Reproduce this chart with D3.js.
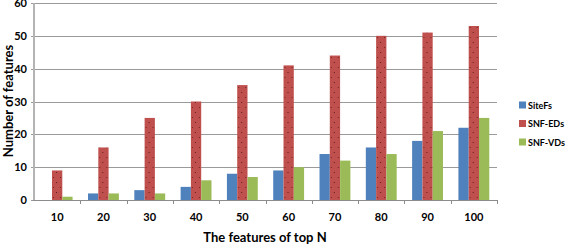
<!DOCTYPE html>
<html>
<head>
<meta charset="utf-8">
<script src="https://cdn.jsdelivr.net/npm/d3@7"></script>
<style>
  body { margin: 0; background: #fff; }
  text { font-family: Lato, "Open Sans", sans-serif; font-weight: 700; fill: #000; }
</style>
</head>
<body>
<div id="chart"></div>
<script>

var categories = ['10', '20', '30', '40', '50', '60', '70', '80', '90', '100']
var seriesNames = ['SiteFs', 'SNF-EDs', 'SNF-VDs']
var siteFs = [0, 2, 3, 4, 8, 9, 14, 16, 18, 22]
var snfEDs = [9, 16, 25, 30, 35, 41, 44, 50, 51, 53]
var snfVDs = [1, 2, 2, 6, 7, 10, 12, 14, 21, 25]
var yTicks = [0, 10, 20, 30, 40, 50, 60]

var colors = { 'SiteFs': '#4F81BD', 'SNF-EDs': '#C0504D', 'SNF-VDs': '#9BBB59' }

var width = 567
var height = 245

var svg = d3.select('#chart')
  .append('svg')
  .attr('width', width)
  .attr('height', height)

// dotted fill for the red bars
var pat = svg.append('defs')
  .append('pattern')
    .attr('id', 'dots')
    .attr('width', 7)
    .attr('height', 10)
    .attr('patternUnits', 'userSpaceOnUse')
pat.append('rect').attr('width', 7).attr('height', 10).attr('fill', colors['SNF-EDs'])
pat.append('rect').attr('x', 1).attr('y', 2).attr('width', 1).attr('height', 1).attr('fill', '#5e201f')
pat.append('rect').attr('x', 5).attr('y', 7).attr('width', 1).attr('height', 1).attr('fill', '#6e2826')

var x0 = d3.scaleBand()
  .domain(categories)
  .range([34, 497])

var x1 = d3.scaleBand()
  .domain(seriesNames)
  .range([0, x0.bandwidth()])
  .paddingOuter(0.75)

var y = d3.scaleLinear()
  .domain([0, 60])
  .range([200, 3])

// gridlines
svg.append('g')
  .selectAll('line')
  .data(yTicks)
  .join('line')
    .attr('x1', 31)
    .attr('x2', 497)
    .attr('y1', d => Math.round(y(d)) + 0.5)
    .attr('y2', d => Math.round(y(d)) + 0.5)
    .attr('stroke', '#9a9a9a')
    .attr('stroke-width', 1)

// y axis labels
svg.append('g')
  .selectAll('text')
  .data(yTicks)
  .join('text')
    .attr('x', 27)
    .attr('y', d => y(d) + 4)
    .attr('text-anchor', 'end')
    .attr('font-size', 11)
    .text(d => d)

// bars
var rows = categories.map(function(c, i) {
  return { cat: c, vals: [siteFs[i], snfEDs[i], snfVDs[i]] }
})

var groups = svg.append('g')
  .selectAll('g')
  .data(rows)
  .join('g')
    .attr('transform', d => 'translate(' + x0(d.cat) + ',0)')

groups.selectAll('rect')
  .data(d => d.vals.map((v, j) => ({ name: seriesNames[j], value: v })))
  .join('rect')
    .attr('x', d => x1(d.name))
    .attr('width', x1.bandwidth())
    .attr('y', d => y(d.value))
    .attr('height', d => y(0) - y(d.value))
    .attr('fill', d => d.name == 'SNF-EDs' ? 'url(#dots)' : colors[d.name])

// axes lines
svg.append('line')
  .attr('x1', 34).attr('x2', 34)
  .attr('y1', 3).attr('y2', 201)
  .attr('stroke', '#b4b4b4')
  .attr('stroke-width', 2)

svg.append('line')
  .attr('x1', 33).attr('x2', 497)
  .attr('y1', 200.5).attr('y2', 200.5)
  .attr('stroke', '#8c8c8c')
  .attr('stroke-width', 1)

// category boundary ticks on x axis
var bounds = categories.map(c => x0(c)).concat([x0(categories[categories.length - 1]) + x0.bandwidth()])
svg.append('g')
  .selectAll('line')
  .data(bounds.slice(1))
  .join('line')
    .attr('x1', d => Math.round(d) + 0.5)
    .attr('x2', d => Math.round(d) + 0.5)
    .attr('y1', 200)
    .attr('y2', 204)
    .attr('stroke', '#8c8c8c')

// x labels
svg.append('g')
  .selectAll('text')
  .data(categories)
  .join('text')
    .attr('x', d => x0(d) + x0.bandwidth() / 2)
    .attr('y', 221)
    .attr('text-anchor', 'middle')
    .attr('font-size', 11)
    .text(d => d)

// axis titles
svg.append('text')
  .attr('x', 265)
  .attr('y', 242)
  .attr('text-anchor', 'middle')
  .attr('font-size', 13)
  .text('The features of top N')

svg.append('text')
  .attr('transform', 'translate(13,101) rotate(-90)')
  .attr('text-anchor', 'middle')
  .attr('font-size', 13)
  .text('Number of features')

// legend
var legend = svg.append('g')
  .selectAll('g')
  .data(seriesNames)
  .join('g')
    .attr('transform', (d, i) => 'translate(519,' + (105 + i * 18.5) + ')')

legend.append('rect')
  .attr('x', 0)
  .attr('y', -3.5)
  .attr('width', 7)
  .attr('height', 7)
  .attr('fill', d => colors[d])

legend.append('text')
  .attr('x', 9)
  .attr('y', 3.5)
  .attr('font-size', 9)
  .text(d => d)

</script>
</body>
</html>
